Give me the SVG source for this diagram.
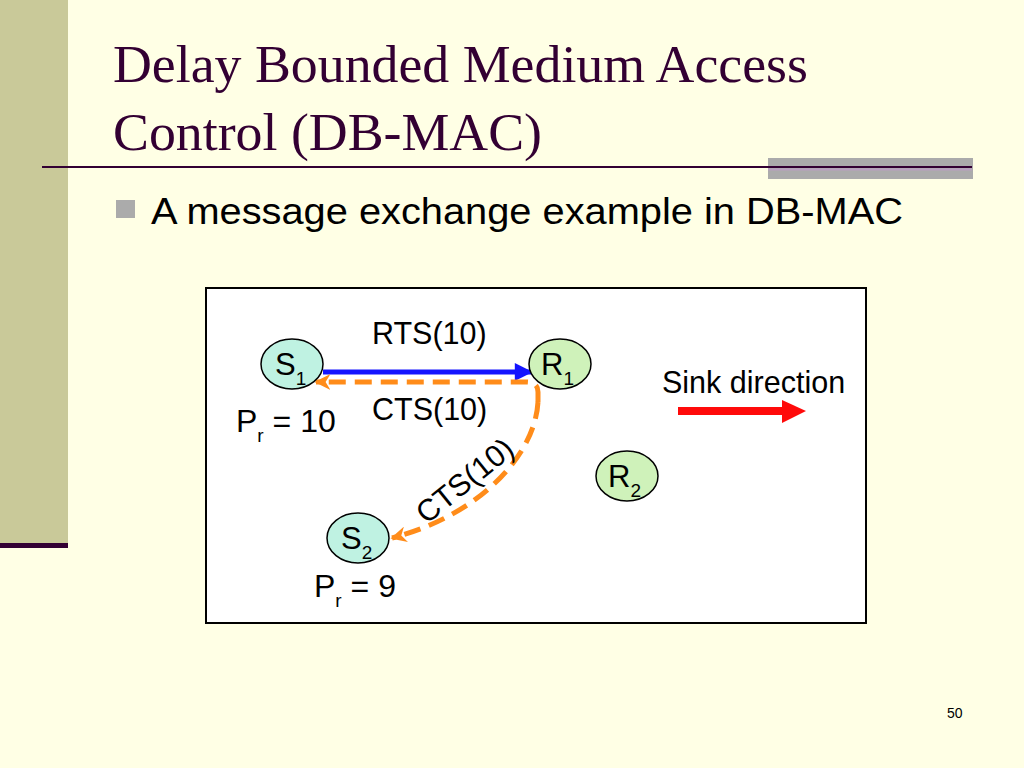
<svg xmlns="http://www.w3.org/2000/svg" width="1024" height="768" viewBox="0 0 1024 768">
<defs>
<style>
.title{font-family:"Liberation Serif","Times New Roman",serif;font-size:53px;fill:#330033}
.sans{font-family:"Liberation Sans",Arial,sans-serif;fill:#000}
.d{font-size:30.5px}
.p{font-size:32px}
.n{font-size:31px}
.sub{font-size:19px}
.s-node{fill:#BFF2E2;stroke:#000;stroke-width:1.5}
.r-node{fill:#CFF2BA;stroke:#000;stroke-width:1.5}
.cts{fill:none;stroke:#FF8C1A;stroke-width:5;stroke-dasharray:17 9}
</style>
<marker id="blueHead" viewBox="0 0 10 10" refX="9" refY="5" markerWidth="4" markerHeight="3.6" orient="auto" markerUnits="strokeWidth">
<path d="M0,0 L10,5 L0,10 z" fill="#1414FF"/>
</marker>
<marker id="orangeHead" viewBox="0 0 10 10" refX="9" refY="5" markerWidth="3.2" markerHeight="3.2" orient="auto" markerUnits="strokeWidth">
<path d="M0,0 L10,5 L0,10 L3,5 z" fill="#FF8C1A"/>
</marker>
</defs>
<rect x="0" y="0" width="1024" height="768" fill="#FFFFE5"/>
<rect x="0" y="0" width="68" height="543" fill="#C9C999"/>
<rect x="0" y="543" width="68" height="5" fill="#330033"/>
<rect x="768" y="158" width="205" height="21" fill="#ABABAB"/>
<line x1="42" y1="167" x2="972" y2="167" stroke="#330033" stroke-width="2"/>
<line x1="768" y1="169.5" x2="972" y2="169.5" stroke="#B9A0C0" stroke-width="2"/>
<text class="title" x="113" y="82" textLength="695" lengthAdjust="spacingAndGlyphs">Delay Bounded Medium Access</text>
<text class="title" x="113" y="150" textLength="429" lengthAdjust="spacingAndGlyphs">Control (DB-MAC)</text>
<rect x="116" y="200" width="19" height="18" fill="#ABABAB"/>
<text class="sans" x="151" y="224" font-size="36" textLength="752" lengthAdjust="spacingAndGlyphs">A message exchange example in DB-MAC</text>
<text class="sans" x="947" y="718" font-size="14">50</text>

<rect x="206" y="288" width="660" height="335" fill="#FFFFFF" stroke="#000" stroke-width="2"/>

<g id="connectors">
<line x1="323" y1="372" x2="531" y2="372" stroke="#1414FF" stroke-width="5" marker-end="url(#blueHead)"/>
<path class="cts" d="M538,402 L538,392 Q538,382 526,382 L316,382" marker-end="url(#orangeHead)"/>
<path class="cts" d="M538,402 C535,455 480,515 392,538" marker-end="url(#orangeHead)"/>
<line x1="678" y1="411" x2="784" y2="411" stroke="#FF0A0A" stroke-width="8"/>
<path d="M782,400 L806,411 L782,423 z" fill="#FF0A0A"/>
</g>

<g id="labels" class="sans">
<text class="d" x="372" y="344">RTS(10)</text>
<text class="d" x="372" y="420">CTS(10)</text>
<text class="d" transform="translate(465,481) rotate(-39)" text-anchor="middle" y="10">CTS(10)</text>
<text class="d" x="662" y="393">Sink direction</text>
<text class="p" x="236" y="432">P<tspan class="sub" dy="10">r</tspan><tspan dy="-10"> = 10</tspan></text>
<text class="p" x="314" y="597">P<tspan class="sub" dy="10">r</tspan><tspan dy="-10"> = 9</tspan></text>
</g>

<g id="S1">
<ellipse class="s-node" cx="292" cy="364" rx="31" ry="25"/>
<text class="sans n" x="275" y="375">S<tspan class="sub" dy="10">1</tspan></text>
</g>
<g id="R1">
<ellipse class="r-node" cx="560" cy="364" rx="31" ry="25"/>
<text class="sans n" x="541" y="375">R<tspan class="sub" dy="10">1</tspan></text>
</g>
<g id="R2">
<ellipse class="r-node" cx="627" cy="476" rx="31" ry="25"/>
<text class="sans n" x="608" y="487">R<tspan class="sub" dy="10">2</tspan></text>
</g>
<g id="S2">
<ellipse class="s-node" cx="358" cy="538" rx="31" ry="25"/>
<text class="sans n" x="341" y="549">S<tspan class="sub" dy="10">2</tspan></text>
</g>
</svg>
